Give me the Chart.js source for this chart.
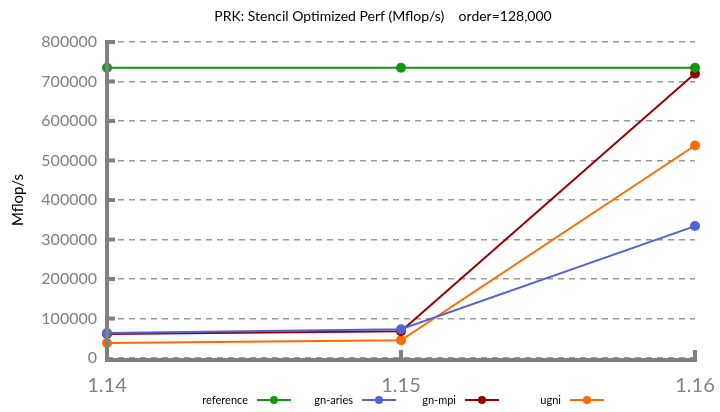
<!DOCTYPE html>
<html>
<head>
<meta charset="utf-8">
<script src="https://cdn.jsdelivr.net/npm/chart.js@4/dist/chart.umd.min.js"></script>
<style>
  html, body { margin: 0; padding: 0; background: #fff; }
  #wrap { width: 720px; height: 412px; }
</style>
</head>
<body>
<div id="wrap"><canvas id="perf-chart"></canvas></div>
<script>
// versions on the x axis
var versions = ["1.14", "1.15", "1.16"];
var yTicks = [0, 100000, 200000, 300000, 400000, 500000, 600000, 700000, 800000];

// Mflop/s per version
var referenceData = [735000, 735000, 735000];
var gnAriesData = [63000, 73000, 334000];
var gnMpiData = [61000, 68000, 720000];
var ugniData = [38000, 45000, 538000];

var axisGrey = "#808080";
var fontFam = "Lato, 'DejaVu Sans', sans-serif";

// axes, title and legend drawn by hand (ticks inside the axis, legend text before the sample)
var decorations = {
    id: "decorations",
    afterDraw: function(chart) {
        var ctx = chart.ctx;
        var area = chart.chartArea;
        var yScale = chart.scales.y;
        var xScale = chart.scales.x;
        ctx.save();

        ctx.strokeStyle = axisGrey;
        ctx.lineWidth = 4;
        ctx.lineCap = "butt";
        ctx.beginPath();
        ctx.moveTo(area.left, yScale.getPixelForValue(800000) - 2);
        ctx.lineTo(area.left, area.bottom + 2);
        ctx.lineTo(area.right + 2, area.bottom + 2);
        ctx.stroke();

        // y tick marks, pointing into the plot
        yTicks.forEach(function(v) {
            if (v === 0) return;
            var py = yScale.getPixelForValue(v);
            ctx.beginPath();
            ctx.moveTo(area.left, py);
            ctx.lineTo(area.left + 8, py);
            ctx.stroke();
        });
        // x tick marks, pointing up
        for (var i = 1; i < versions.length; i++) {
            var px = xScale.getPixelForValue(i);
            ctx.beginPath();
            ctx.moveTo(px, area.bottom + 2);
            ctx.lineTo(px, area.bottom - 8);
            ctx.stroke();
        }

        // title
        ctx.fillStyle = "#000";
        ctx.font = "14px " + fontFam;
        ctx.textAlign = "center";
        ctx.textBaseline = "middle";
        ctx.fillText("PRK: Stencil Optimized Perf (Mflop/s)    order=128,000", 383, 16);

        // y title
        ctx.save();
        ctx.translate(18, (area.top + area.bottom) / 2);
        ctx.rotate(-Math.PI / 2);
        ctx.font = "15px " + fontFam;
        ctx.fillText("Mflop/s", 0, 0);
        ctx.restore();

        // legend
        var legendY = 400;
        var legendX = [248, 353, 456, 561];
        ctx.font = "11px " + fontFam;
        chart.data.datasets.forEach(function(ds, k) {
            var tx = legendX[k];
            ctx.fillStyle = "#000";
            ctx.textAlign = "right";
            ctx.fillText(ds.label, tx, legendY);
            var lx = tx + 9;
            ctx.strokeStyle = ds.borderColor;
            ctx.lineWidth = 2;
            ctx.beginPath();
            ctx.moveTo(lx, legendY);
            ctx.lineTo(lx + 34, legendY);
            ctx.stroke();
            ctx.fillStyle = ds.borderColor;
            ctx.beginPath();
            ctx.arc(lx + 17, legendY, 4, 0, Math.PI * 2);
            ctx.fill();
        });

        ctx.restore();
    }
};

function series(label, data, color) {
    return {
        label: label,
        data: data,
        borderColor: color,
        backgroundColor: color,
        pointBackgroundColor: color,
        pointBorderColor: color,
        borderWidth: 2,
        pointRadius: 4,
        tension: 0,
        fill: false
    };
}

var ctx = document.getElementById("perf-chart").getContext("2d");
var perfChart = new Chart(ctx, {
    type: "line",
    data: {
        labels: versions,
        datasets: [
            series("reference", referenceData, "#119911"),
            series("gn-aries", gnAriesData, "#5064d6"),
            series("gn-mpi", gnMpiData, "#990000"),
            series("ugni", ugniData, "#ff6a00")
        ]
    },
    options: {
        responsive: true,
        maintainAspectRatio: false,
        animation: false,
        layout: { padding: { top: 42, right: 25, bottom: 12, left: 0 } },
        plugins: {
            legend: { display: false },
            title: { display: false },
            tooltip: { enabled: false }
        },
        scales: {
            x: {
                offset: false,
                grid: { display: false, drawTicks: false },
                border: { display: false },
                afterFit: function(axis) {
                    axis.height = 42;
                    axis.paddingLeft = 0;
                    axis.paddingRight = 0;
                },
                ticks: {
                    color: axisGrey,
                    padding: 16,
                    maxRotation: 0,
                    font: { family: fontFam, size: 20 }
                }
            },
            y: {
                min: 0,
                max: 800000,
                afterBuildTicks: function(axis) {
                    axis.ticks = yTicks.map(function(v) { return { value: v }; });
                },
                afterFit: function(axis) { axis.width = 107; },
                grid: {
                    color: "#999999",
                    lineWidth: 1.5,
                    drawTicks: false
                },
                border: { display: false, dash: [6, 5] },
                ticks: {
                    color: axisGrey,
                    padding: 10,
                    font: { family: fontFam, size: 16 },
                    callback: function(v) { return String(v); }
                }
            }
        }
    },
    plugins: [decorations]
});
</script>
</body>
</html>
